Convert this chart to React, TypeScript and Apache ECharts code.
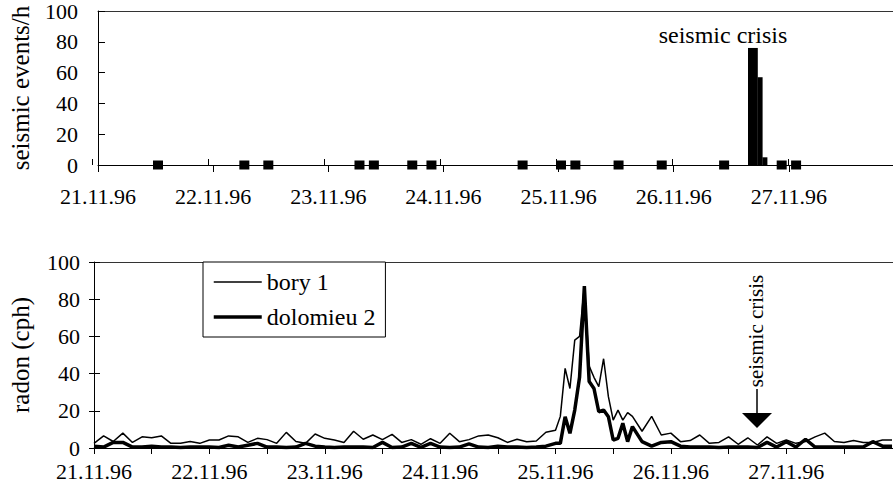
import React, { useEffect, useRef } from "react";
import * as echarts from "echarts";

const dayLabels = ["21.11.96", "22.11.96", "23.11.96", "24.11.96", "25.11.96", "26.11.96", "27.11.96"];

// seismic events per hour (top chart), x in hours since 21.11.96 00:00
const quakeSingleHours = [12.5, 30.5, 35.5, 54.5, 57.5, 65.5, 69.5, 88.5, 96.5, 99.5, 108.5, 117.5, 130.5, 142.5, 145.5];
const crisisHours = [136, 137, 138, 139];
const crisisCounts = [76, 76, 57, 5];

// radon (bottom chart)
const radonHours = [
  0, 2, 4, 6, 8, 10, 12, 14, 16, 18, 20, 22, 24, 26, 28, 30, 32, 34, 36, 38, 40, 42, 44, 46,
  48, 50, 52, 54, 56, 58, 60, 62, 64, 66, 68, 70, 72, 74, 76, 78, 80, 82, 84, 86, 88, 90, 92, 94,
  96, 97, 98, 99, 100, 101, 102, 103, 104, 105, 106, 107, 108, 109, 110, 111, 112,
  114, 116, 118, 120, 122, 124, 126, 128, 130, 132, 134, 136, 138, 140, 142, 144, 146, 148, 150,
  152, 154, 156, 158, 160, 162, 164, 166,
];
const bory1 = [
  2.5, 6.5, 3.5, 8, 3, 6, 5.5, 6.5, 2.5, 2.5, 3.5, 2.5, 4.3, 4.3, 6.5, 6, 3, 5.2, 4.5, 2.5, 8.4, 3.5, 2.5, 7.5,
  5.2, 4.3, 3, 9, 4.7, 7, 4.5, 7.3, 3, 4.5, 2, 5, 2.5, 7.9, 3.4, 4.5, 6.5, 7, 5.5, 3, 4.7, 3.4, 3.8, 8.5,
  9.5, 17, 42.8, 32, 58, 60, 87, 44, 38, 33, 48, 27.6, 15, 20.4, 15, 19, 17,
  9, 17, 7, 8, 3.4, 4, 7, 2.5, 3, 6, 2, 5.5, 1.6, 6, 2.5, 4.3, 2.5, 3.5, 6,
  8, 3.5, 3, 4, 3, 3, 4.3, 4.3,
];
const dolomieu2 = [
  1, 0.5, 3, 3, 0.5, 0.5, 1, 0.5, 0.5, 0.3, 0.5, 0.5, 0.5, 0.3, 1.5, 0.5, 1.5, 2.5, 0.5, 0.5, 0.3, 0.5, 2.5, 1,
  0.5, 0.3, 0.5, 0.5, 0.5, 0.3, 3, 0.3, 0.5, 2.5, 0.3, 2.5, 0.5, 0.3, 0.5, 2.2, 0.5, 0.3, 1, 0.5, 0.5, 0.3, 0.5, 1,
  2.5, 2.5, 16.8, 7.9, 20.4, 38, 87, 35.7, 32, 19.5, 20.4, 16.8, 4.3, 5.2, 13.3, 3.4, 11.5,
  3.4, 1, 3, 3.4, 1, 0.5, 0.5, 0.5, 0.3, 0.5, 0.5, 0.5, 0.3, 3, 0.5, 3.4, 0.5, 4.7, 0.5,
  0.5, 0.5, 0.5, 0.5, 0.5, 3.4, 1, 1,
];

const FONT = "'Liberation Serif', 'Times New Roman', serif";
const TOP_MAX = 165.7;
const BOT_MAX = 166.2;

const dayFmt = (v: number) => {
  const d = v / 24;
  return Math.abs(d - Math.round(d)) < 1e-6 ? dayLabels[Math.round(d)] ?? "" : "";
};

export default function App() {
  const ref = useRef<HTMLDivElement>(null);
  useEffect(() => {
    if (!ref.current) return;
    const chart = echarts.init(ref.current, undefined, { renderer: "svg" });
    const txt = { color: "#000", fontFamily: FONT, fontSize: 22 };
    const topGrid = { left: 92, top: 11, width: 801, height: 154 };
    const botGrid = { left: 93, top: 262, width: 800, height: 186 };
    const hidden = { show: false };
    chart.setOption({
      animation: false,
      backgroundColor: "#fff",
      grid: [topGrid, topGrid, botGrid, botGrid],
      xAxis: [
        {
          gridIndex: 0, type: "value", min: 0, max: TOP_MAX, interval: 24, position: "bottom",
          axisLine: { lineStyle: { color: "#000", width: 1 } },
          axisTick: { length: 7, lineStyle: { color: "#000" } },
          axisLabel: { ...txt, margin: 20, formatter: dayFmt, showMaxLabel: false },
          splitLine: hidden,
        },
        {
          gridIndex: 0, type: "value", min: 0, max: TOP_MAX, position: "top",
          axisLine: { lineStyle: { color: "#333", width: 1 } },
          axisTick: hidden, axisLabel: hidden, splitLine: hidden,
        },
        {
          gridIndex: 1, type: "value", min: 0, max: TOP_MAX, interval: 24, position: "bottom",
          axisLine: hidden, axisLabel: hidden, splitLine: hidden,
          axisTick: { inside: true, length: 6, lineStyle: { color: "#000" } },
        },
        {
          gridIndex: 2, type: "value", min: 0, max: BOT_MAX, interval: 12, position: "bottom",
          axisLine: { lineStyle: { color: "#000", width: 1 } },
          axisTick: { length: 6, lineStyle: { color: "#000" } },
          axisLabel: { ...txt, margin: 12, formatter: dayFmt, showMaxLabel: false },
          splitLine: hidden,
        },
        {
          gridIndex: 2, type: "value", min: 0, max: BOT_MAX, position: "top",
          axisLine: { lineStyle: { color: "#333", width: 1 } },
          axisTick: hidden, axisLabel: hidden, splitLine: hidden,
        },
        { gridIndex: 3, type: "value", min: 0, max: BOT_MAX, show: false },
      ],
      yAxis: [
        {
          gridIndex: 0, type: "value", min: 0, max: 100, interval: 20,
          name: "seismic events/h", nameLocation: "middle", nameGap: 65, nameRotate: 90,
          nameTextStyle: { ...txt, fontSize: 25 },
          axisLine: { show: true, lineStyle: { color: "#000" } },
          axisTick: { show: true, inside: true, length: 7, lineStyle: { color: "#000" } },
          axisLabel: { ...txt, margin: 20 },
          splitLine: hidden,
        },
        { gridIndex: 1, type: "value", min: 0, max: 100, show: false },
        {
          gridIndex: 2, type: "value", min: 0, max: 100, interval: 20,
          name: "radon (cph)", nameLocation: "middle", nameGap: 61, nameRotate: 90,
          nameTextStyle: { ...txt, fontSize: 25 },
          axisLine: { show: true, lineStyle: { color: "#000" } },
          axisTick: { show: true, length: 5, lineStyle: { color: "#000" } },
          axisLabel: { ...txt, margin: 14 },
          splitLine: hidden,
        },
        {
          gridIndex: 3, type: "value", min: 0, max: 100, interval: 20,
          axisLine: hidden, axisLabel: hidden, splitLine: hidden,
          axisTick: { show: true, inside: true, length: 7, lineStyle: { color: "#000" } },
        },
      ],
      legend: {
        orient: "vertical",
        left: 203, top: 262,
        padding: [8, 10, 8, 9],
        itemGap: 11,
        itemWidth: 48, itemHeight: 14,
        borderColor: "#000", borderWidth: 1,
        backgroundColor: "#fff",
        itemStyle: { opacity: 0 },
        textStyle: { ...txt, fontSize: 24 },
        data: [
          { name: "bory 1", lineStyle: { width: 1.5, color: "#000" } },
          { name: "dolomieu 2", lineStyle: { width: 3.5, color: "#000" } },
        ],
      },
      series: [
        {
          type: "bar", xAxisIndex: 0, yAxisIndex: 0, barWidth: 5,
          itemStyle: { color: "#000" },
          data: crisisHours.map((h, i) => [h, crisisCounts[i]]),
        },
        {
          type: "scatter", xAxisIndex: 0, yAxisIndex: 0, symbol: "rect", symbolSize: [10, 9],
          itemStyle: { color: "#000", opacity: 1 },
          data: quakeSingleHours.map((h) => [h, 0]),
        },
        {
          name: "bory 1", type: "line", xAxisIndex: 3, yAxisIndex: 2, symbol: "none",
          lineStyle: { color: "#000", width: 1.5 }, itemStyle: { color: "#000" },
          data: radonHours.map((h, i) => [h, bory1[i]]),
        },
        {
          name: "dolomieu 2", type: "line", xAxisIndex: 3, yAxisIndex: 2, symbol: "none",
          lineStyle: { color: "#000", width: 3.5 }, itemStyle: { color: "#000" },
          data: radonHours.map((h, i) => [h, dolomieu2[i]]),
        },
      ],
      graphic: [
        {
          type: "text", x: 723, y: 35,
          style: { text: "seismic crisis", fontSize: 24, fontFamily: FONT, fill: "#000", align: "center", verticalAlign: "middle" },
        },
        {
          type: "text", x: 756, y: 331, rotation: Math.PI / 2,
          style: { text: "seismic crisis", fontSize: 21, fontFamily: FONT, fill: "#000", align: "center", verticalAlign: "middle" },
        },
        { type: "line", shape: { x1: 757, y1: 389, x2: 757, y2: 414 }, style: { stroke: "#000", lineWidth: 1.5 } },
        { type: "polygon", shape: { points: [[742, 413], [772, 413], [757, 428]] }, style: { fill: "#000" } },
      ],
    });
    return () => chart.dispose();
  }, []);
  return (
    <div
      ref={ref}
      style={{ position: "fixed", left: 0, top: 0, width: 893, height: 491, background: "#fff" }}
    />
  );
}
